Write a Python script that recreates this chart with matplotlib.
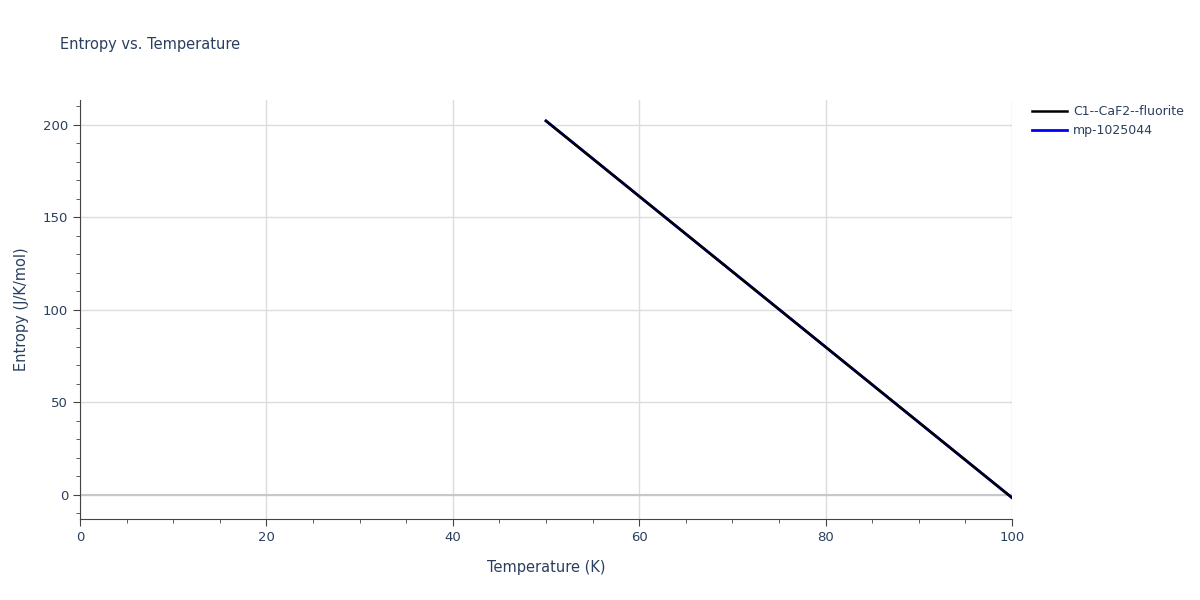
import numpy as np
import matplotlib.pyplot as plt
from matplotlib.ticker import MultipleLocator

# data
temps = [50, 100]
entropy_fluorite = [202.2, -1.5]
entropy_mp = [202.2, -1.5]

font_col = '#2a3f5f'
grid_col = '#dcdcdc'

fig = plt.figure(figsize=(12, 6), dpi=100)
ax = fig.add_axes([80/1200, 81/600, 932/1200, 419/600])

ax.plot(temps, entropy_mp, color='blue', linewidth=2, label='mp-1025044')
ax.plot(temps, entropy_fluorite, color='black', linewidth=1.8, label='C1--CaF2--fluorite')

ax.set_xlim(0, 100)
ax.set_ylim(-13, 213.5)
ax.xaxis.set_major_locator(MultipleLocator(20))
ax.xaxis.set_minor_locator(MultipleLocator(5))
ax.yaxis.set_major_locator(MultipleLocator(50))
ax.yaxis.set_minor_locator(MultipleLocator(10))
ax.grid(True, which='major', color=grid_col, linewidth=1)
ax.axhline(0, color='#c8c8c8', linewidth=1.5, zorder=1)
ax.set_axisbelow(True)

for s in ['top', 'right']:
    ax.spines[s].set_visible(False)
for s in ['left', 'bottom']:
    ax.spines[s].set_color('#444444')
ax.tick_params(which='major', length=5, color='#444444', labelcolor=font_col, labelsize=9.5)
ax.tick_params(which='minor', length=3, color='#444444')

ax.set_xlabel('Temperature (K)', color=font_col, fontsize=10.5, labelpad=12)
ax.set_ylabel('Entropy (J/K/mol)', color=font_col, fontsize=10.5, labelpad=10)
fig.text(60/1200, 1 - 45/600, 'Entropy vs. Temperature', color=font_col, fontsize=10.5, va='center')

handles, labels = ax.get_legend_handles_labels()
leg = fig.legend(handles[::-1], labels[::-1], loc='upper left', bbox_to_anchor=(1032/1200, 1 - 105/600),
                 frameon=False, fontsize=9, handlelength=2.8, handletextpad=0.5,
                 labelspacing=0.5, borderpad=0, borderaxespad=0)
for t in leg.get_texts():
    t.set_color(font_col)

fig.savefig('out.png')
